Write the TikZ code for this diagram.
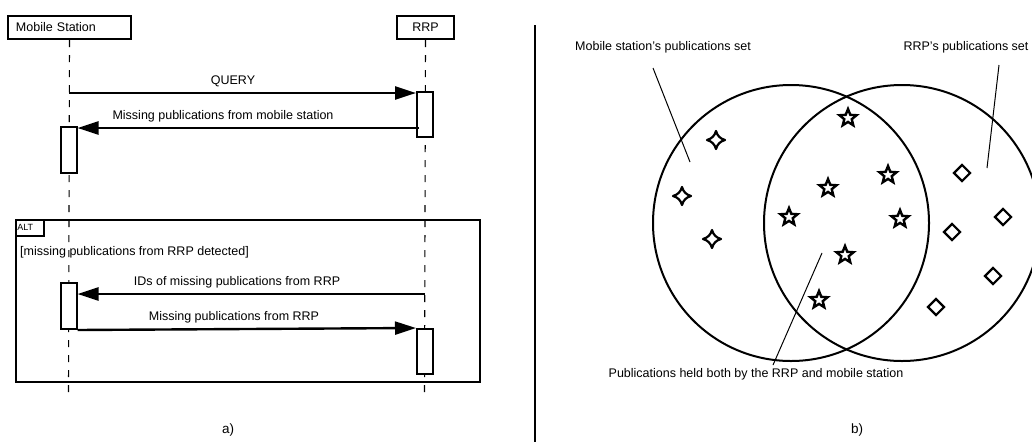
\documentclass[tikz,border=0pt]{standalone}
\usepackage{fontspec}
\setmainfont{Liberation Sans}
\usetikzlibrary{arrows.meta,shapes.geometric}
\begin{document}
\begin{tikzpicture}[x=1pt,y=-1pt,
  txt/.style={font=\fontsize{12.5}{15}\selectfont, inner sep=0pt},
  head/.style={draw, line width=2pt, minimum height=23pt, inner sep=0pt, font=\fontsize{12.5}{15}\selectfont},
  life/.style={line width=1.1pt, dash pattern=on 7pt off 8pt},
  act/.style={draw, fill=white, line width=2pt, minimum width=16pt, inner sep=0pt},
  msg/.style={line width=2.4pt, -{Triangle[length=21pt,width=13pt]}},
  lead/.style={line width=1pt},
  pstar/.style={star, star points=5, star point ratio=2.3, minimum size=18pt, inner sep=0pt, draw, fill=white, line width=2.4pt},
  pdiam/.style={diamond, draw, fill=white, line width=2.2pt, minimum width=17pt, minimum height=17pt, inner sep=0pt},
  pset/.style={circle, draw, line width=2pt, minimum size=276pt, inner sep=0pt},
  spark/.pic={\draw[line width=2.2pt, line join=round, fill=white] (0,-9) .. controls (1.5,-4) and (4,-1.5) .. (9,0) .. controls (4,1.5) and (1.5,4) .. (0,9) .. controls (-1.5,4) and (-4,1.5) .. (-9,0) .. controls (-4,-1.5) and (-1.5,-4) .. cycle;}
]
\useasboundingbox (0,0) rectangle (1032,442);

% ---------- a) sequence diagram ----------
\node[head, minimum width=123pt, anchor=north west, text width=107pt, align=left, inner xsep=8pt] (ms) at (7,15) {Mobile Station};
\node[head, minimum width=57pt, anchor=north west] (rrp) at (396,15) {RRP};

\coordinate (msend) at (68.5,392);
\coordinate (rrpend) at (424.5,394);
\draw[life] (ms.south) -- (msend);
\draw[life] (rrp.south) -- (rrpend);

\node[draw, line width=2pt, minimum width=464pt, minimum height=162pt, anchor=north west, inner sep=0pt] (alt) at (15,219) {};
\node[draw, line width=1.5pt, anchor=north west, text width=25pt, minimum height=16pt, inner sep=0pt, inner xsep=1.5pt, align=left, font=\fontsize{9}{10}\selectfont] (alttab) at (alt.north west) {ALT};
\node[txt, anchor=west] (guard) at (20,252) {[missing publications from RRP detected]};

\node[act, minimum height=45pt, anchor=north] (a1) at (425,91) {};
\node[act, minimum height=46pt, anchor=north] (a2) at (68.5,126) {};
\node[act, minimum height=46pt, anchor=north] (a3) at (68.5,282) {};
\node[act, minimum height=45pt, anchor=north] (a4) at (425,328) {};

\coordinate (q0) at (68.5,93);
\draw[msg] (q0) -- (a1.west |- q0);
\node[txt] (ql) at (233,81) {QUERY};

\coordinate (r0) at (419,128);
\draw[msg] (r0) -- (a2.east |- r0);
\node[txt] (rl) at (223,116) {Missing publications from mobile station};

\coordinate (i0) at (424.5,294);
\draw[msg] (i0) -- (a3.east |- i0);
\node[txt] (il) at (237,282) {IDs of missing publications from RRP};

\draw[msg] (a3.south east) -- (a4.north west);
\node[txt] (ml) at (234,317) {Missing publications from RRP};

\node[txt, font=\fontsize{13.5}{16}\selectfont] (la) at (228,430) {a)};

% ---------- separator ----------
\coordinate (sepT) at (535,25);
\coordinate (sepB) at (535,442);
\draw[line width=2pt] (sepT) -- (sepB);

% ---------- b) sets ----------
\node[pset] (msset) at (791,223) {};
\node[pset] (rrpset) at (902,223) {};

\node[txt] (msl) at (663,47) {Mobile station’s publications set};
\node[txt] (rrpl) at (966,47) {RRP’s publications set};
\node[txt] (bothl) at (756,374) {Publications held both by the RRP and mobile station};

\coordinate (m1) at (653,68); \coordinate (m2) at (690,162);
\draw[lead] (m1) -- (m2);
\coordinate (p1) at (999,65); \coordinate (p2) at (987,168);
\draw[lead] (p1) -- (p2);
\coordinate (b1) at (822,253); \coordinate (b2) at (773,365);
\draw[lead] (b1) -- (b2);

\foreach \x/\y [count=\i] in {848/118,888/175,828/188,789/217,900/219,845/255,819/300}
  \node[pstar] (st\i) at (\x,\y) {};
\foreach \x/\y [count=\i] in {716/140,682/196,712/239}
  \pic at (\x,\y) {spark};
\foreach \x/\y [count=\i] in {962/173,1003/217,952/232,993/276,936/307}
  \node[pdiam] (dm\i) at (\x,\y) {};

\node[txt, font=\fontsize{13.5}{16}\selectfont] (lb) at (857,430) {b)};
\end{tikzpicture}
\end{document}
